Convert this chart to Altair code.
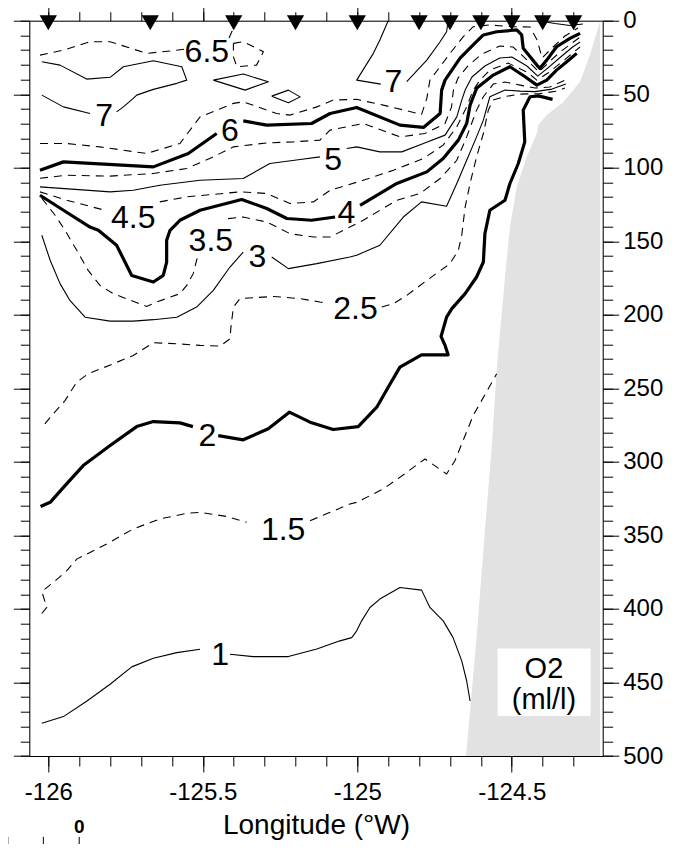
import altair as alt
import pandas as pd

FONT = "Liberation Sans"

# ---------------- contour segments: (longitude, depth m) ----------------
O2_1_A = [(-126.021, 477.7), (-125.951, 473.2), (-125.876, 462.8), (-125.800, 451.2), (-125.730, 439.4),
          (-125.660, 433.5), (-125.584, 429.7), (-125.509, 427.4)]
O2_1_B = [(-125.412, 430.8), (-125.337, 432.4), (-125.223, 432.4), (-125.131, 427.3), (-125.056, 421.7),
          (-125.018, 419.5), (-125.002, 414.9), (-124.986, 408.1), (-124.959, 399.0), (-124.927, 393.3),
          (-124.862, 385.4), (-124.792, 387.2), (-124.765, 399.0), (-124.722, 408.1), (-124.690, 419.5),
          (-124.662, 435.3), (-124.646, 449.0), (-124.635, 462.6)]

O2_15_A = [(-126.021, 403.1), (-126.005, 399.0), (-126.021, 388.1), (-125.984, 382.0), (-125.940, 374.0),
           (-125.908, 366.1), (-125.865, 361.6), (-125.811, 355.8), (-125.725, 345.6), (-125.639, 338.8),
           (-125.552, 335.0), (-125.509, 334.3), (-125.423, 337.1), (-125.358, 341.1)]
O2_15_B = [(-125.153, 340.0), (-125.088, 334.3), (-125.024, 328.6), (-125.002, 327.5), (-124.916, 318.4),
           (-124.862, 310.5), (-124.781, 298.0), (-124.711, 308.2), (-124.684, 299.2), (-124.625, 268.5),
           (-124.549, 240.1)]

O2_2_A = [(-126.025, 330.4), (-125.994, 327.5), (-125.951, 317.3), (-125.887, 302.5), (-125.800, 288.9),
          (-125.714, 276.0), (-125.660, 272.6), (-125.574, 273.5), (-125.532, 276.0)]
O2_2_B = [(-125.450, 282.1), (-125.369, 285.0), (-125.288, 277.5), (-125.220, 266.2), (-125.153, 273.0),
          (-125.078, 278.0), (-124.997, 276.0), (-124.937, 262.8), (-124.900, 249.2), (-124.862, 235.6),
          (-124.792, 227.2), (-124.706, 227.2), (-124.716, 220.8), (-124.729, 214.7), (-124.711, 201.6),
          (-124.694, 195.8), (-124.651, 185.6), (-124.614, 174.3), (-124.592, 164.1), (-124.587, 144.8),
          (-124.571, 128.9), (-124.522, 122.1), (-124.506, 110.7), (-124.479, 97.1), (-124.458, 82.4),
          (-124.463, 60.8), (-124.441, 51.7), (-124.414, 51.1), (-124.368, 53.5)]

O2_25_A = [(-126.011, 274.1), (-125.984, 267.3), (-125.946, 258.3), (-125.908, 245.8), (-125.871, 240.1),
           (-125.790, 233.3), (-125.725, 227.6), (-125.660, 219.0), (-125.584, 219.7), (-125.509, 220.8),
           (-125.444, 221.3), (-125.412, 216.3), (-125.409, 208.4), (-125.401, 194.8), (-125.380, 189.0),
           (-125.272, 187.5), (-125.185, 189.0), (-125.121, 191.3), (-125.094, 192.0)]
O2_25_B = [(-124.921, 194.7), (-124.883, 192.4), (-124.840, 186.8), (-124.775, 176.6), (-124.700, 165.2),
           (-124.673, 156.1), (-124.662, 145.9), (-124.651, 126.7), (-124.635, 110.7), (-124.614, 92.6),
           (-124.592, 76.7), (-124.576, 60.8), (-124.561, 54.0), (-124.522, 51.6), (-124.473, 49.9),
           (-124.409, 49.6), (-124.355, 47.9), (-124.328, 45.8)]

O2_3_A = [(-126.021, 145.9), (-125.994, 162.9), (-125.962, 178.8), (-125.930, 190.2), (-125.881, 201.6),
          (-125.800, 204.3), (-125.725, 204.3), (-125.660, 203.3), (-125.584, 201.6), (-125.520, 194.7),
          (-125.466, 183.4), (-125.412, 167.5), (-125.369, 157.3)]
O2_3_B = [(-125.277, 160.7), (-125.223, 168.6), (-125.131, 165.2), (-125.024, 160.7), (-125.002, 159.5),
          (-124.927, 152.7), (-124.851, 133.5), (-124.792, 123.2), (-124.711, 126.2), (-124.678, 110.7),
          (-124.646, 94.9), (-124.614, 79.0), (-124.592, 67.6), (-124.571, 51.7), (-124.522, 47.2),
          (-124.473, 47.9), (-124.425, 48.2), (-124.370, 46.5), (-124.325, 43.1)]

O2_35_A = [(-126.021, 120.7), (-125.978, 132.3), (-125.946, 142.5), (-125.908, 156.1), (-125.871, 169.8),
           (-125.833, 180.0), (-125.790, 185.6), (-125.682, 194.3), (-125.649, 191.3), (-125.574, 185.6),
           (-125.552, 180.0), (-125.531, 172.0), (-125.516, 159.5)]
O2_35_B = [(-125.418, 134.6), (-125.369, 133.5), (-125.293, 136.9), (-125.218, 144.8), (-125.142, 147.1),
           (-125.088, 147.1), (-124.981, 135.7), (-124.872, 122.1), (-124.797, 117.5), (-124.732, 107.3),
           (-124.678, 94.9), (-124.646, 79.0), (-124.614, 60.8), (-124.592, 51.7), (-124.560, 43.1),
           (-124.522, 41.7), (-124.473, 43.8), (-124.425, 45.8), (-124.377, 45.1), (-124.328, 40.4)]

O2_4_A = [(-126.027, 118.7), (-125.951, 128.9), (-125.865, 140.3), (-125.838, 142.5), (-125.779, 152.7),
          (-125.730, 173.2), (-125.660, 177.7), (-125.628, 173.2), (-125.617, 164.1), (-125.617, 149.3),
          (-125.606, 142.5), (-125.574, 135.7), (-125.509, 128.9), (-125.374, 121.6), (-125.293, 127.7),
          (-125.228, 134.5), (-125.148, 135.7), (-125.072, 133.5)]
O2_4_B = [(-124.991, 125.5), (-124.872, 110.7), (-124.775, 102.8), (-124.722, 93.7), (-124.673, 81.2),
          (-124.646, 69.9), (-124.635, 57.4), (-124.614, 46.0), (-124.560, 37.0), (-124.506, 31.3),
          (-124.457, 38.1), (-124.419, 43.8), (-124.387, 40.4), (-124.355, 33.6), (-124.322, 27.9),
          (-124.290, 22.2)]

O2_45_A = [(-126.027, 116.4), (-125.940, 122.1), (-125.817, 128.9)]
O2_45_B = [(-125.639, 123.2), (-125.552, 119.8), (-125.380, 116.4), (-125.293, 117.5), (-125.218, 124.3),
           (-125.142, 123.2), (-125.088, 115.3), (-124.981, 108.5), (-124.883, 101.7), (-124.786, 93.7),
           (-124.722, 84.6), (-124.678, 72.2), (-124.646, 58.6), (-124.625, 47.2), (-124.603, 40.4),
           (-124.571, 33.6), (-124.512, 28.8), (-124.451, 34.9), (-124.419, 40.4), (-124.383, 35.6),
           (-124.334, 27.4), (-124.299, 21.3), (-124.279, 17.9)]

O2_5_A = [(-126.027, 113.0), (-125.800, 116.4), (-125.725, 115.3), (-125.639, 111.9), (-125.509, 108.5),
          (-125.369, 107.3), (-125.283, 97.1), (-125.185, 94.4), (-125.121, 92.6)]
O2_5_B = [(-125.034, 86.9), (-125.002, 85.8), (-124.927, 89.2), (-124.856, 89.2), (-124.786, 83.5),
          (-124.716, 77.8), (-124.678, 65.4), (-124.662, 54.0), (-124.651, 47.2), (-124.629, 38.3),
          (-124.587, 30.8), (-124.539, 25.4), (-124.500, 24.7), (-124.451, 30.8), (-124.416, 37.7),
          (-124.384, 32.2), (-124.338, 24.0), (-124.303, 17.9), (-124.279, 14.5)]

O2_55 = [(-126.027, 107.1), (-125.940, 105.1), (-125.800, 105.7), (-125.660, 103.9), (-125.552, 100.5),
         (-125.466, 92.6), (-125.401, 85.8), (-125.293, 83.1), (-125.207, 82.4), (-125.121, 81.2),
         (-125.088, 74.4), (-124.981, 69.9), (-124.862, 79.0), (-124.781, 76.7), (-124.716, 69.9),
         (-124.695, 58.6), (-124.689, 47.2), (-124.674, 39.0), (-124.642, 30.8), (-124.597, 22.7),
         (-124.539, 17.2), (-124.496, 17.9), (-124.457, 25.4), (-124.412, 34.9), (-124.383, 28.8),
         (-124.344, 21.3), (-124.305, 15.2), (-124.279, 11.1)]

O2_6_A = [(-126.027, 101.7), (-125.951, 96.0), (-125.660, 99.4), (-125.547, 90.3), (-125.455, 76.7)]
O2_6_B = [(-125.369, 68.1), (-125.293, 71.0), (-125.148, 69.9), (-125.088, 63.1), (-125.002, 59.0),
          (-124.862, 71.0), (-124.786, 72.6), (-124.732, 63.1), (-124.727, 47.2), (-124.716, 40.4),
          (-124.668, 25.6), (-124.625, 16.5), (-124.592, 9.7), (-124.549, 7.5), (-124.484, 6.3),
          (-124.468, 9.7), (-124.463, 18.8), (-124.419, 30.2), (-124.409, 32.4), (-124.387, 26.8),
          (-124.355, 17.7), (-124.312, 12.0), (-124.279, 8.6)]

O2_65_A = [(-126.027, 23.4), (-125.951, 20.0), (-125.865, 14.3), (-125.800, 14.3), (-125.682, 22.2),
           (-125.595, 20.4), (-125.558, 19.3)]
O2_65_B = [(-125.415, 11.8), (-125.401, 5.0), (-125.399, 0.0)]
O2_65_LOOP = [(-125.401, 15.4), (-125.369, 14.3), (-125.304, 21.1), (-125.326, 30.2), (-125.390, 31.3),
              (-125.401, 24.5), (-125.401, 15.4)]
O2_65_C = [(-126.027, 83.5), (-125.940, 83.5), (-125.833, 85.8), (-125.682, 90.3), (-125.574, 83.5),
           (-125.509, 65.4), (-125.401, 56.2), (-125.369, 55.2), (-125.261, 63.1), (-125.218, 64.2),
           (-125.131, 58.6), (-125.078, 54.0), (-125.002, 53.5), (-124.916, 57.4), (-124.792, 63.7),
           (-124.775, 52.8), (-124.765, 40.4), (-124.732, 31.3), (-124.700, 22.2), (-124.657, 10.9),
           (-124.625, 4.1), (-124.571, 2.9), (-124.495, 4.1), (-124.441, 4.3), (-124.418, 13.1),
           (-124.402, 25.4), (-124.370, 18.6), (-124.328, 10.4), (-124.286, 5.0)]

O2_7_A = [(-126.021, 50.6), (-125.951, 58.6), (-125.865, 63.1)]
O2_7_B = [(-125.779, 62.0), (-125.757, 58.6), (-125.725, 52.8), (-125.714, 50.6), (-125.660, 46.7),
          (-125.584, 42.6), (-125.552, 40.4), (-125.568, 31.3), (-125.660, 27.2), (-125.757, 31.3),
          (-125.800, 38.5), (-125.876, 39.7), (-125.962, 30.2), (-126.021, 27.9)]
O2_7_D1 = [(-125.466, 40.4), (-125.369, 36.3), (-125.288, 41.5), (-125.363, 47.2), (-125.466, 40.4)]
O2_7_D2 = [(-125.277, 51.3), (-125.223, 47.2), (-125.185, 51.8), (-125.223, 55.8), (-125.277, 51.3)]
O2_7_R_A = [(-124.900, 0.0), (-124.927, 13.1), (-124.948, 22.2), (-125.002, 40.4), (-124.924, 43.1)]
O2_7_R_B = [(-124.840, 41.5), (-124.775, 26.8), (-124.732, 14.3), (-124.711, 7.5), (-124.706, 0.0)]
O2_7_TR = [(-124.415, 0.0), (-124.360, 1.9), (-124.312, 3.3), (-124.270, 2.2)]

SEGMENTS = [
    ("thin", O2_1_A), ("thin", O2_1_B),
    ("dash", O2_15_A), ("dash", O2_15_B),
    ("thick", O2_2_A), ("thick", O2_2_B),
    ("dash", O2_25_A), ("dash", O2_25_B),
    ("thin", O2_3_A), ("thin", O2_3_B),
    ("dash", O2_35_A), ("dash", O2_35_B),
    ("thick", O2_4_A), ("thick", O2_4_B),
    ("dash", O2_45_A), ("dash", O2_45_B),
    ("thin", O2_5_A), ("thin", O2_5_B),
    ("dash", O2_55),
    ("thick", O2_6_A), ("thick", O2_6_B),
    ("dash", O2_65_A), ("dash", O2_65_B), ("dash", O2_65_LOOP), ("dash", O2_65_C),
    ("thin", O2_7_A), ("thin", O2_7_B), ("thin", O2_7_D1), ("thin", O2_7_D2),
    ("thin", O2_7_R_A), ("thin", O2_7_R_B), ("thin", O2_7_TR),
]

# contour labels
LABEL_TEXT = ["1", "1.5", "2", "2.5", "3", "3.5", "4", "4.5", "5", "6", "6.5", "7", "7"]
LABEL_LON = [-125.444, -125.240, -125.485, -125.006, -125.323, -125.474, -125.035, -125.725,
             -125.078, -125.412, -125.487, -125.819, -124.883]
LABEL_DEPTH = [429.9, 344.8, 280.9, 194.7, 159.0, 148.2, 129.4, 132.8, 93.7, 73.9, 20.0, 63.7, 40.0]

# station positions (top triangles)
STATION_LON = [-126.0, -125.67, -125.4, -125.2, -125.0, -124.8, -124.7, -124.6, -124.5, -124.4, -124.3]

# bottom topography (grey), west edge of the seafloor
BOTTOM_LON = [-124.214, -124.247, -124.279, -124.333, -124.387, -124.414, -124.419, -124.452, -124.484,
              -124.506, -124.522, -124.549, -124.565, -124.587, -124.614, -124.648]
BOTTOM_DEPTH = [0.0, 23.4, 41.5, 55.2, 64.2, 71.0, 76.7, 92.6, 113.0, 140.3, 174.3, 237.8, 290.1,
                346.8, 419.4, 500.0]
EAST_EDGE = -124.214

# legend box
BOX_LON = [-124.546, -124.245]
BOX_DEPTH = [426.9, 472.8]
BOX_TEXT = ["O2", "(ml/l)"]
BOX_TEXT_LON = [-124.396, -124.396]
BOX_TEXT_DEPTH = [441.0, 462.0]

# stray scale bar at lower left
SCALE_TICK_LON = [-126.131, -126.016, -125.900]
SCALE_TICK_DEPTH = [555.0, 560.5]
SCALE_LINE_LON = [-126.16, -125.900]
SCALE_TEXT_LON = [-125.900]
SCALE_TEXT_DEPTH = [548.4]

# axes ticks
LON_MAJOR = [-126.0, -125.5, -125.0, -124.5]
LON_MINOR = [-126.0, -125.9, -125.8, -125.7, -125.6, -125.5, -125.4, -125.3, -125.2, -125.1, -125.0,
             -124.9, -124.8, -124.7, -124.6, -124.5, -124.4, -124.3]
DEPTH_MAJOR = [0, 50, 100, 150, 200, 250, 300, 350, 400, 450, 500]
DEPTH_MINOR = list(range(0, 510, 10))

# ---------------- data frames ----------------
rows = []
for k, (style, pts) in enumerate(SEGMENTS):
    for i, (lo, de) in enumerate(pts):
        rows.append({"seg": k, "i": i, "style": style, "lon": lo, "depth": de})
lines = pd.DataFrame(rows)

labels = pd.DataFrame({"lon": LABEL_LON, "depth": LABEL_DEPTH, "t": LABEL_TEXT})
stations = pd.DataFrame({"lon": STATION_LON, "depth": [0.0] * len(STATION_LON)})
bottom = pd.DataFrame({"lon": BOTTOM_LON, "depth": BOTTOM_DEPTH, "east": [EAST_EDGE] * len(BOTTOM_LON)})
box = pd.DataFrame({"lon": [BOX_LON[0]], "lon2": [BOX_LON[1]], "depth": [BOX_DEPTH[0]], "depth2": [BOX_DEPTH[1]]})
boxtext = pd.DataFrame({"lon": BOX_TEXT_LON, "depth": BOX_TEXT_DEPTH, "t": BOX_TEXT})
sticks = pd.DataFrame({"lon": SCALE_TICK_LON, "depth": [SCALE_TICK_DEPTH[0]] * 3,
                       "depth2": [SCALE_TICK_DEPTH[1]] * 3})
sline = pd.DataFrame({"lon": [SCALE_LINE_LON[0]], "lon2": [SCALE_LINE_LON[1]], "depth": [SCALE_TICK_DEPTH[1]]})
stext = pd.DataFrame({"lon": SCALE_TEXT_LON, "depth": SCALE_TEXT_DEPTH, "t": ["0"]})

XS = alt.Scale(domain=[-126.0615, -124.2058], nice=False, zero=False)
YS = alt.Scale(domain=[0, 500], reverse=True, nice=False, zero=False)

common = dict(domainColor="black", tickColor="black", domainWidth=1, tickWidth=1, grid=False,
              title=None, labelFlush=False, labelOverlap=False)


def ax(orient, values, size, labels=False, domain=False, **kw):
    d = dict(common)
    d.update(kw)
    return alt.Axis(orient=orient, values=values, tickSize=size, labels=labels, domain=domain, **d)


AX_BOTTOM_MINOR = ax("bottom", LON_MINOR, 10)
AX_TOP_MAJOR = ax("top", LON_MAJOR, 16, domain=True)
AX_TOP_MINOR = ax("top", LON_MINOR, 9)
AX_LEFT_MAJOR = ax("left", DEPTH_MAJOR, 16, domain=True)
AX_LEFT_MINOR = ax("left", DEPTH_MINOR, 9)
AX_RIGHT_MAJOR = ax("right", DEPTH_MAJOR, 16, labels=True, domain=True, labelFont=FONT,
                    labelFontSize=24, labelColor="black", labelPadding=4, labelAlign="left")
AX_RIGHT_MINOR = ax("right", DEPTH_MINOR, 10)

AX_BOTTOM_MAJOR = alt.Axis(orient="bottom", values=LON_MAJOR, tickSize=16, labels=True, domain=True,
                           labelExpr="'-' + (-datum.value)", labelFont=FONT, labelFontSize=24,
                           labelColor="black", labelPadding=8, title="Longitude (°W)", titleFont=FONT,
                           titleFontSize=28, titleFontWeight="normal", titleColor="black", titlePadding=7,
                           domainColor="black", tickColor="black", domainWidth=1, tickWidth=1, grid=False,
                           labelFlush=False, labelOverlap=False)


def X(field="lon", axis=None, **kw):
    return alt.X(f"{field}:Q", scale=XS, axis=axis, **kw)


def Y(field="depth", axis=None, **kw):
    return alt.Y(f"{field}:Q", scale=YS, axis=axis, **kw)


grey = alt.Chart(bottom).mark_area(orient="horizontal", color="#e2e2e2").encode(
    x=X("lon", AX_BOTTOM_MAJOR), x2="east:Q", y=Y("depth", AX_RIGHT_MAJOR))

boxl = alt.Chart(box).mark_rect(color="white").encode(
    x=X("lon", AX_BOTTOM_MINOR), x2="lon2:Q", y=Y("depth", AX_RIGHT_MINOR), y2="depth2:Q")

thick = alt.Chart(lines[lines["style"] == "thick"]).mark_line(
    color="black", strokeWidth=3.2, strokeJoin="round").encode(
    x=X("lon", AX_TOP_MAJOR), y=Y("depth", AX_LEFT_MAJOR), detail="seg:N", order="i:Q")

thin = alt.Chart(lines[lines["style"] == "thin"]).mark_line(
    color="black", strokeWidth=1.1, strokeJoin="round").encode(
    x=X("lon", AX_TOP_MINOR), y=Y("depth", AX_LEFT_MINOR), detail="seg:N", order="i:Q")

dash = alt.Chart(lines[lines["style"] == "dash"]).mark_line(
    color="black", strokeWidth=1.1, strokeDash=[8, 6]).encode(
    x=X("lon"), y=Y("depth"), detail="seg:N", order="i:Q")

lab = alt.Chart(labels).mark_text(font=FONT, fontSize=32, color="black", baseline="middle",
                                  align="center", dy=2).encode(
    x=X("lon"), y=Y("depth"), text="t:N")

tri = alt.Chart(stations).mark_point(shape="triangle-down", filled=True, size=300, color="black",
                                     opacity=1, yOffset=2).encode(x=X("lon"), y=Y("depth"))

btxt = alt.Chart(boxtext).mark_text(font=FONT, fontSize=29, color="black", baseline="middle",
                                    align="center").encode(x=X("lon"), y=Y("depth"), text="t:N")

stk = alt.Chart(sticks).mark_rule(color="black", strokeWidth=1).encode(
    x=X("lon"), y=Y("depth"), y2="depth2:Q")
sln = alt.Chart(sline).mark_rule(color="#bbbbbb", strokeWidth=1).encode(
    x=X("lon"), x2="lon2:Q", y=Y("depth"))
stx = alt.Chart(stext).mark_text(font=FONT, fontSize=19, fontWeight="bold", color="black",
                                 baseline="middle", align="center").encode(
    x=X("lon"), y=Y("depth"), text="t:N")

chart = alt.layer(grey, boxl, thick, thin, dash, lab, tri, btxt, stk, sln, stx).resolve_axis(
    x="independent", y="independent").properties(
    width=573.4, height=735.3,
    autosize=alt.AutoSizeParams(type="none"),
    padding={"left": 21.3, "top": 12.7, "right": 73.3, "bottom": 88},
).configure_view(stroke=None).configure(background="white")

chart.save("out.html", embed_options={"renderer": "svg", "actions": False})
